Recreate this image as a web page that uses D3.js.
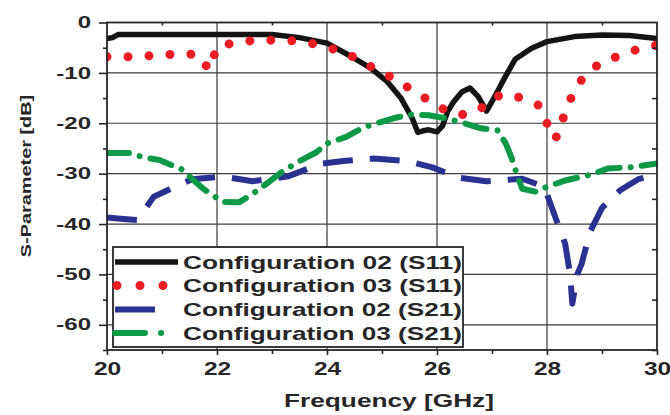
<!DOCTYPE html>
<html>
<head>
<meta charset="utf-8">
<script src="https://cdn.jsdelivr.net/npm/d3@7"></script>
<style>
  body { margin: 0; background: #fff; }
  svg { display: block; }
  text { font-family: "Liberation Sans", Arial, sans-serif; font-weight: bold; fill: #262626; }
</style>
</head>
<body>
<svg id="chart" width="670" height="415"></svg>
<script>
// Axis ticks
const xTicks = [20, 22, 24, 26, 28, 30];
const xMinorTicks = [21, 23, 25, 27, 29];
const yTicks = [0, -10, -20, -30, -40, -50, -60];
const yMinorTicks = [-5, -15, -25, -35, -45, -55, -65];

const seriesNames = [
  "Configuration 02 (S11)",
  "Configuration 03 (S11)",
  "Configuration 02 (S21)",
  "Configuration 03 (S21)"
];

// Configuration 02, S11 (GHz, dB)
const cfg02S11Freq = [20.0, 20.1, 20.2, 21.0, 22.0, 23.0, 23.5, 24.0, 24.45, 24.8, 25.1, 25.35, 25.55, 25.65, 25.75, 25.85, 26.0, 26.1, 26.2, 26.3, 26.45, 26.6, 26.75, 26.9, 27.05, 27.25, 27.42, 27.72, 28.0, 28.5, 29.0, 29.5, 30.0];
const cfg02S11Db   = [-3.2, -3.0, -2.4, -2.4, -2.4, -2.4, -3.0, -4.1, -6.8, -9.1, -11.8, -15.1, -19.0, -21.8, -21.5, -21.3, -21.7, -20.5, -17.5, -15.8, -13.8, -13.0, -14.7, -17.6, -14.7, -10.6, -7.3, -5.1, -3.8, -2.8, -2.5, -2.6, -3.2];

// Configuration 03, S11
const cfg03S11Freq = [20.0, 20.4, 20.8, 21.2, 21.65, 21.8, 21.85, 21.9, 22.0, 22.4, 22.8, 23.25, 23.7, 24.0, 24.35, 24.7, 25.0, 25.3, 25.55, 25.85, 26.1, 26.4, 26.75, 27.0, 27.3, 27.6, 27.88, 28.0, 28.12, 28.24, 28.3, 28.42, 28.55, 28.75, 29.0, 29.35, 29.7, 30.0];
const cfg03S11Db   = [-6.8, -6.8, -6.6, -6.3, -6.3, -8.5, -9.4, -8.1, -4.8, -3.8, -3.5, -3.5, -4.1, -4.9, -6.1, -8.1, -10.1, -11.4, -13.6, -15.4, -17.1, -18.4, -17.6, -14.9, -14.1, -15.3, -16.6, -20.0, -23.2, -22.0, -18.7, -15.4, -12.4, -9.9, -7.8, -6.5, -5.1, -4.5];

// Configuration 02, S21
const cfg02S21Freq = [20.0, 20.3, 20.55, 20.85, 21.2, 21.55, 22.1, 22.65, 23.0, 23.3, 23.9, 24.3, 24.85, 25.45, 25.9, 26.4, 26.9, 27.55, 27.95, 28.15, 28.33, 28.42, 28.46, 28.55, 28.63, 28.78, 29.0, 29.33, 29.66, 30.0];
const cfg02S21Db   = [-38.7, -39.0, -39.2, -34.6, -32.8, -31.1, -30.6, -31.5, -31.0, -30.5, -28.0, -27.5, -27.0, -27.5, -28.7, -30.8, -31.5, -31.0, -32.6, -38.6, -43.9, -50.0, -55.8, -50.0, -47.9, -41.6, -36.8, -33.3, -31.1, -30.2];

// Configuration 03, S21
const cfg03S21Freq = [20.0, 20.4, 20.65, 20.95, 21.35, 21.75, 22.1, 22.4, 22.65, 22.95, 23.2, 23.5, 23.8, 24.0, 24.35, 24.65, 24.9, 25.25, 25.5, 25.85, 26.15, 26.5, 26.8, 27.1, 27.25, 27.35, 27.48, 27.55, 27.8, 28.0, 28.35, 28.8, 29.1, 29.55, 30.0];
const cfg03S21Db   = [-25.9, -25.9, -26.7, -27.3, -29.1, -33.0, -35.6, -35.7, -34.0, -31.6, -29.5, -27.5, -25.8, -24.0, -22.7, -20.9, -20.0, -18.9, -18.3, -18.4, -19.0, -20.0, -21.0, -21.4, -24.0, -26.7, -31.0, -33.0, -33.6, -32.6, -31.3, -30.2, -29.0, -28.7, -28.0];

const svg = d3.select("#chart");
const x = d3.scaleLinear().domain([20, 30]).range([107, 657]);
const y = d3.scaleLinear().domain([-65, 0]).range([350, 22.5]);
const ink = "#262626";

// widen glyphs horizontally by a fixed factor
function stretch(sel, k) {
  sel.each(function () {
    const w = this.getComputedTextLength();
    d3.select(this).attr("textLength", w * k).attr("lengthAdjust", "spacingAndGlyphs");
  });
}

// grid
const grid = svg.append("g").attr("stroke", "#3a3a3a").attr("stroke-width", 1.2);
grid.selectAll(".gx").data(xTicks.slice(1, -1)).join("line")
  .attr("x1", d => x(d)).attr("x2", d => x(d)).attr("y1", y(0)).attr("y2", y(-65));
grid.selectAll(".gy").data(yTicks.slice(1)).join("line")
  .attr("y1", d => y(d)).attr("y2", d => y(d)).attr("x1", x(20)).attr("x2", x(30));

// series
const series = [
  { f: cfg02S11Freq, v: cfg02S11Db, color: "#141414", width: 5.5, dash: null, cap: "butt" },
  { f: cfg03S11Freq, v: cfg03S11Db, color: "#ec1c24", width: 9, dash: "0 21", cap: "round" },
  { f: cfg02S21Freq, v: cfg02S21Db, color: "#2b3190", width: 6, dash: "30 17", cap: "butt" },
  { f: cfg03S21Freq, v: cfg03S21Db, color: "#0d9a48", width: 6, dash: "22 11 0.1 11", cap: "round" }
];

svg.append("clipPath").attr("id", "plotClip").append("rect")
  .attr("x", x(20)).attr("y", y(0) - 4).attr("width", x(30) - x(20)).attr("height", y(-65) - y(0) + 4);

const line = d3.line().x(d => x(d[0])).y(d => y(d[1]));
const plot = svg.append("g").attr("clip-path", "url(#plotClip)");
series.forEach(s => {
  plot.append("path")
    .datum(d3.zip(s.f, s.v))
    .attr("d", line)
    .attr("fill", "none")
    .attr("stroke", s.color)
    .attr("stroke-width", s.width)
    .attr("stroke-linejoin", "round")
    .attr("stroke-linecap", s.cap)
    .attr("stroke-dasharray", s.dash);
});

// frame
svg.append("rect")
  .attr("x", x(20)).attr("y", y(0)).attr("width", x(30) - x(20)).attr("height", y(-65) - y(0))
  .attr("fill", "none").attr("stroke", ink).attr("stroke-width", 1.8);

// axes
const fmt = d => String(d);
const xAxis = svg.append("g").attr("transform", `translate(0,${y(-65)})`)
  .call(d3.axisBottom(x).tickValues(xTicks).tickSize(5).tickPadding(8).tickFormat(fmt));
const xMinor = svg.append("g").attr("transform", `translate(0,${y(-65)})`)
  .call(d3.axisBottom(x).tickValues(xMinorTicks).tickSize(4).tickFormat(""));
const xTop = svg.append("g").attr("transform", `translate(0,${y(0)})`)
  .call(d3.axisBottom(x).tickValues(xMinorTicks).tickSize(3).tickFormat(""));
const yAxis = svg.append("g").attr("transform", `translate(${x(20)},0)`)
  .call(d3.axisLeft(y).tickValues(yTicks).tickSize(8).tickPadding(8).tickFormat(fmt));
const yMinor = svg.append("g").attr("transform", `translate(${x(20)},0)`)
  .call(d3.axisLeft(y).tickValues(yMinorTicks).tickSize(4).tickFormat(""));
const yRight = svg.append("g").attr("transform", `translate(${x(30)},0)`)
  .call(d3.axisLeft(y).tickValues(yMinorTicks).tickSize(5).tickFormat(""));

[xAxis, xMinor, xTop, yAxis, yMinor, yRight].forEach(g => {
  g.select(".domain").remove();
  g.selectAll(".tick line").attr("stroke", ink).attr("stroke-width", 1.6);
});
xAxis.selectAll("text").attr("font-size", 17.5).attr("fill", ink).call(stretch, 1.4);
yAxis.selectAll("text").attr("font-size", 16).attr("fill", ink).call(stretch, 1.5);

// axis titles
svg.append("text")
  .attr("x", (x(20) + x(30)) / 2 + 7).attr("y", 407)
  .attr("text-anchor", "middle").attr("font-size", 17.5).attr("fill", ink)
  .text("Frequency [GHz]").call(stretch, 1.5);

svg.append("text")
  .attr("transform", "translate(31,176) rotate(-90)")
  .attr("text-anchor", "middle").attr("font-size", 14).attr("fill", ink)
  .text("S-Parameter [dB]").call(stretch, 1.42);

// legend
const legend = svg.append("g");
legend.append("rect")
  .attr("x", 113).attr("y", 247).attr("width", 350).attr("height", 100)
  .attr("fill", "#fff").attr("stroke", ink).attr("stroke-width", 1.8);
const rowY = [262, 285.5, 309.5, 333];
series.forEach((s, i) => {
  legend.append("line")
    .attr("x1", i === 1 ? 117 : 115).attr("x2", i === 1 ? 166 : 178)
    .attr("y1", rowY[i]).attr("y2", rowY[i])
    .attr("stroke", s.color).attr("stroke-width", s.width)
    .attr("stroke-linecap", s.cap)
    .attr("stroke-dasharray", i === 1 ? "0 23" : i === 2 ? "40 40" : i === 3 ? "30 16 0.1 40" : null);
  legend.append("text")
    .attr("x", 183).attr("y", rowY[i]).attr("dy", "0.36em")
    .attr("font-size", 18.5).attr("fill", ink)
    .text(seriesNames[i])
    .attr("textLength", 279).attr("lengthAdjust", "spacingAndGlyphs");
});
</script>
</body>
</html>
